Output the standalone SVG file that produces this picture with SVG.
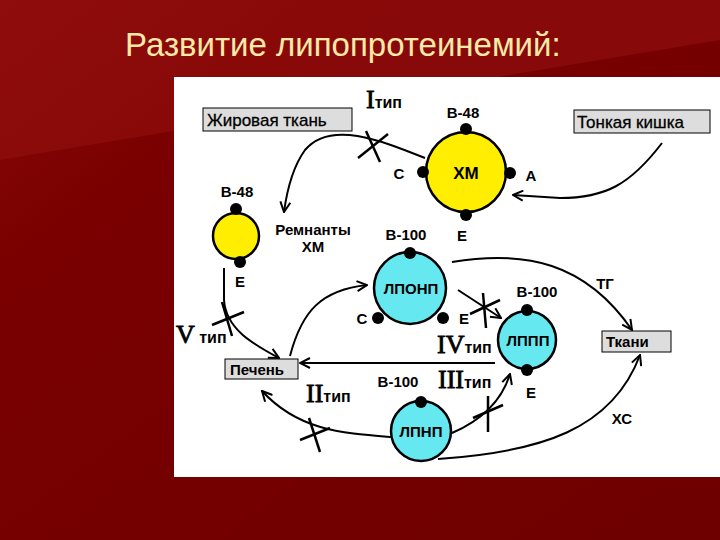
<svg xmlns="http://www.w3.org/2000/svg" width="720" height="540" viewBox="0 0 720 540">
<defs>
<linearGradient id="bg" x1="0" y1="0" x2="1" y2="1">
<stop offset="0" stop-color="#8a0a0a"/><stop offset="0.25" stop-color="#7a0000"/><stop offset="1" stop-color="#6e0000"/>
</linearGradient>
<marker id="ar" viewBox="0 0 12 12" refX="11" refY="6" markerWidth="12" markerHeight="12" markerUnits="userSpaceOnUse" orient="auto">
<path d="M1,1 L11,6 L1,11" fill="none" stroke="#000" stroke-width="2"/>
</marker>
<style>
.t{font-family:"Liberation Sans",Arial,sans-serif;font-weight:bold;font-size:15px;fill:#000}
.n{font-family:"Liberation Sans",Arial,sans-serif;font-size:17px;fill:#000;stroke:#000;stroke-width:0.3}
.b{fill:#ddd;stroke:#000;stroke-width:1}
.y{fill:#ffee00;stroke:#000;stroke-width:2.5}
.c{fill:#66e8f0;stroke:#000;stroke-width:2.5}
.d{fill:#000}
.l{fill:none;stroke:#000;stroke-width:2}
.x{stroke:#000;stroke-width:2.5}
.r{font-family:"Liberation Serif",serif;font-size:26px;fill:#000;stroke:#000;stroke-width:0.8}
</style>
</defs>
<rect width="720" height="540" fill="url(#bg)"/>
<polygon points="0,0 720,0 720,40 0,160" fill="#920f0f" opacity="0.6"/>
<text x="125" y="56" font-family="Liberation Sans,Arial,sans-serif" font-size="33" fill="#ffe9a8">Развитие липопротеинемий:</text>
<rect x="174" y="77" width="546" height="400" fill="#fff"/>

<g id="connectors">
<path class="l" d="M425,158 C380,140 330,120 305,150 C292,168 287,190 284,212" marker-end="url(#ar)"/>
<path class="l" d="M662,143 C630,185 605,198 560,198 L513,195" marker-end="url(#ar)"/>
<path class="l" d="M224,268 L224,300 C226,330 255,345 279,358" marker-end="url(#ar)"/>
<path class="l" d="M290,356 C302,310 322,290 367,285" marker-end="url(#ar)"/>
<path class="l" d="M452,262 C525,250 585,262 632,330" marker-end="url(#ar)"/>
<path class="l" d="M458,290 L501,318" marker-end="url(#ar)"/>
<path class="l" d="M495,363 L300,363" marker-end="url(#ar)"/>
<path class="l" d="M452,433 C482,420 502,400 510,374" marker-end="url(#ar)"/>
<path class="l" d="M391,437 C340,433 298,430 262,391" marker-end="url(#ar)"/>
<path class="l" d="M438,459 C540,452 612,430 640,355" marker-end="url(#ar)"/>
<line class="x" x1="358" y1="158" x2="388" y2="134"/><line class="x" x1="366" y1="131" x2="380" y2="162"/>
<line class="x" x1="212" y1="325" x2="244" y2="312"/><line class="x" x1="222" y1="302" x2="232" y2="336"/>
<line class="x" x1="470" y1="314" x2="500" y2="300"/><line class="x" x1="483" y1="293" x2="486" y2="328"/>
<line class="x" x1="473" y1="418" x2="503" y2="405"/><line class="x" x1="488" y1="396" x2="488" y2="432"/>
<line class="x" x1="300" y1="440" x2="330" y2="428"/><line class="x" x1="309" y1="418" x2="320" y2="452"/>
</g>

<g id="zhir"><rect class="b" x="203" y="108" width="149" height="23"/><text class="n" x="207" y="126">Жировая ткань</text></g>
<g id="kishka"><rect class="b" x="574" y="110" width="136" height="23"/><text class="n" x="577" y="128">Тонкая кишка</text></g>
<g id="tkani"><rect class="b" x="602" y="331" width="69" height="21"/><text class="t" x="606" y="347">Ткани</text></g>
<g id="pechen"><rect class="b" x="225" y="359" width="73" height="20"/><text class="t" x="230" y="375">Печень</text></g>

<g id="xm">
<circle class="y" cx="466" cy="172" r="40"/>
<circle class="d" cx="466" cy="129" r="6"/><circle class="d" cx="423" cy="172" r="6"/><circle class="d" cx="510" cy="173" r="6"/><circle class="d" cx="466" cy="215" r="6"/>
<text class="t" x="466" y="179" text-anchor="middle" style="font-size:17px">ХМ</text>
<text class="t" x="463" y="118" text-anchor="middle">B-48</text>
<text class="t" x="399" y="179" text-anchor="middle">C</text>
<text class="t" x="531" y="181" text-anchor="middle">A</text>
<text class="t" x="462" y="241" text-anchor="middle">E</text>
<text class="r" x="366" y="108">I<tspan class="t" style="font-size:16px;stroke:none">тип</tspan></text>
</g>

<g id="remnant">
<circle class="y" cx="236" cy="236" r="23"/>
<circle class="d" cx="236" cy="209" r="6"/><circle class="d" cx="240" cy="262" r="6"/>
<text class="t" x="237" y="197" text-anchor="middle">B-48</text>
<text class="t" x="240" y="287" text-anchor="middle">E</text>
<text class="t" x="313" y="235" text-anchor="middle">Ремнанты</text>
<text class="t" x="313" y="252" text-anchor="middle">ХМ</text>
</g>

<g id="lponp">
<circle class="c" cx="410" cy="288" r="36"/>
<circle class="d" cx="410" cy="253" r="6"/><circle class="d" cx="378" cy="318" r="6"/><circle class="d" cx="443" cy="318" r="6"/>
<text class="t" x="411" y="294" text-anchor="middle">ЛПОНП</text>
<text class="t" x="406" y="240" text-anchor="middle">B-100</text>
<text class="t" x="362" y="324" text-anchor="middle">C</text>
<text class="t" x="464" y="324" text-anchor="middle">E</text>
<text class="t" x="605" y="289" text-anchor="middle">ТГ</text>
</g>

<g id="lppp">
<circle class="c" cx="527" cy="340" r="29"/>
<circle class="d" cx="527" cy="310" r="6"/><circle class="d" cx="527" cy="370" r="6"/>
<text class="t" x="528" y="346" text-anchor="middle">ЛППП</text>
<text class="t" x="537" y="297" text-anchor="middle">B-100</text>
<text class="t" x="531" y="398" text-anchor="middle">E</text>
<text class="r" x="437" y="353">IV<tspan class="t" style="font-size:16px;stroke:none">тип</tspan></text>
</g>

<g id="lpnp">
<circle class="c" cx="421" cy="431" r="30"/>
<circle class="d" cx="421" cy="402" r="6"/>
<text class="t" x="421" y="437" text-anchor="middle">ЛПНП</text>
<text class="t" x="398" y="387" text-anchor="middle">B-100</text>
<text class="r" x="438" y="388">III<tspan class="t" style="font-size:16px;stroke:none">тип</tspan></text>
<text class="r" x="306" y="402">II<tspan class="t" style="font-size:16px;stroke:none">тип</tspan></text>
<text class="r" x="176" y="343">V<tspan class="t" style="font-size:16px;stroke:none"> тип</tspan></text>
<text class="t" x="622" y="424" text-anchor="middle">ХС</text>
</g>
</svg>
